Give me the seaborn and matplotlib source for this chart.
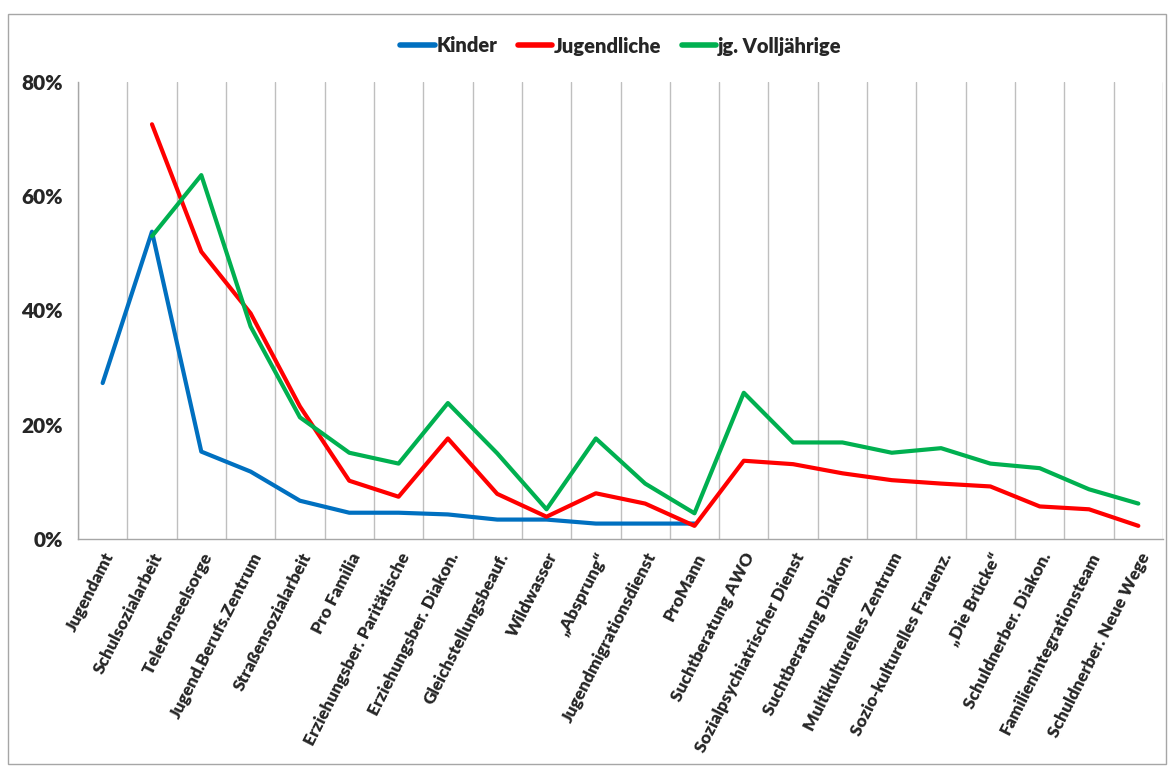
import numpy as np
import pandas as pd
import matplotlib
matplotlib.use("Agg")
import matplotlib.pyplot as plt
from matplotlib.patches import Rectangle
from matplotlib.ticker import PercentFormatter, MultipleLocator, FixedLocator
import seaborn as sns

categories = ["Jugendamt", "Schulsozialarbeit", "Telefonseelsorge", "Jugend.Berufs.Zentrum",
              "Straßensozialarbeit", "Pro Familia", "Erziehungsber. Paritätische",
              "Erziehungsber. Diakon.", "Gleichstellungsbeauf.", "Wildwasser", "„Absprung“",
              "Jugendmigrationsdienst", "ProMann", "Suchtberatung AWO",
              "Sozialpsychiatrischer Dienst", "Suchtberatung Diakon.", "Multikulturelles Zentrum",
              "Sozio-kulturelles Frauenz.", "„Die Brücke“", "Schuldnerber. Diakon.",
              "Familienintegrationsteam", "Schuldnerber. Neue Wege"]

nan = np.nan
kinder = [27.3, 53.8, 15.3, 11.8, 6.7, 4.6, 4.6, 4.3, 3.4, 3.4, 2.7, 2.7, 2.7,
          nan, nan, nan, nan, nan, nan, nan, nan, nan]
jugendliche = [nan, 72.6, 50.3, 39.5, 23.2, 10.2, 7.4, 17.6, 7.9, 3.9, 8.0, 6.2, 2.3,
               13.7, 13.1, 11.5, 10.3, 9.7, 9.2, 5.7, 5.2, 2.3]
volljaehrige = [nan, 53.0, 63.7, 37.2, 21.3, 15.1, 13.2, 23.8, 15.0, 5.2, 17.6, 9.7, 4.5,
                25.6, 16.9, 16.9, 15.1, 15.9, 13.2, 12.4, 8.7, 6.2]

series = ["Kinder", "Jugendliche", "jg. Volljährige"]
colors = ["#0070C0", "#FF0000", "#00B050"]

rows = []
for name, vals in zip(series, [kinder, jugendliche, volljaehrige]):
    for i, v in enumerate(vals):
        rows.append({"pos": i, "Gruppe": name, "Anteil": v / 100})
df = pd.DataFrame(rows).dropna()

sns.set_style("white")
plt.rcParams['font.family'] = ['Lato', 'DejaVu Sans']
W = "heavy"

fig = plt.figure(figsize=(11.68, 7.67), dpi=100)
ax = fig.add_axes([78 / 1168, 1 - 539 / 767, (1163 - 78) / 1168, (539 - 82) / 767])

sns.lineplot(data=df, x="pos", y="Anteil", hue="Gruppe", hue_order=series,
             palette=colors, linewidth=3.0, ax=ax, legend=True)

ax.set_xlim(-0.5, len(categories) - 0.5)
ax.set_ylim(0, 0.8)
ax.yaxis.set_major_locator(MultipleLocator(0.2))
ax.yaxis.set_major_formatter(PercentFormatter(1.0, decimals=0))
ax.set_xticks(range(len(categories)))
ax.set_xticklabels(categories, rotation=63, ha="right", rotation_mode="anchor",
                   fontsize=12.5, fontweight=W)
ax.xaxis.set_minor_locator(FixedLocator(np.arange(-0.5, len(categories), 1)))
ax.tick_params(axis="x", which="major", length=0, pad=8)
ax.tick_params(axis="x", which="minor", length=5, color="#A6A6A6", direction="out")
ax.tick_params(axis="y", length=5, color="#A6A6A6", direction="out", pad=6)
for lab in ax.get_yticklabels():
    lab.set_fontsize(15)
    lab.set_fontweight(W)
ax.grid(which="minor", axis="x", color="#BFBFBF", linewidth=1.0)
ax.grid(which="major", axis="both", visible=False)
ax.set_xlabel("")
ax.set_ylabel("")
for s in ["top", "right"]:
    ax.spines[s].set_visible(False)
for s in ["left", "bottom"]:
    ax.spines[s].set_color("#A6A6A6")
    ax.spines[s].set_linewidth(1.0)

leg = ax.legend(loc="center", bbox_to_anchor=(621 / 1168, 1 - 46 / 767),
                bbox_transform=fig.transFigure, ncol=3, frameon=False,
                handlelength=1.7, handletextpad=0.1, columnspacing=1.0,
                prop={"weight": W, "size": 14.5})
for line in leg.get_lines():
    line.set_linewidth(4)

fig.patches.append(Rectangle((8 / 1168, 3 / 767), 1158 / 1168, 750 / 767,
                             transform=fig.transFigure, fill=False,
                             edgecolor="#A6A6A6", linewidth=1.0))

fig.savefig("out.png", dpi=100)
